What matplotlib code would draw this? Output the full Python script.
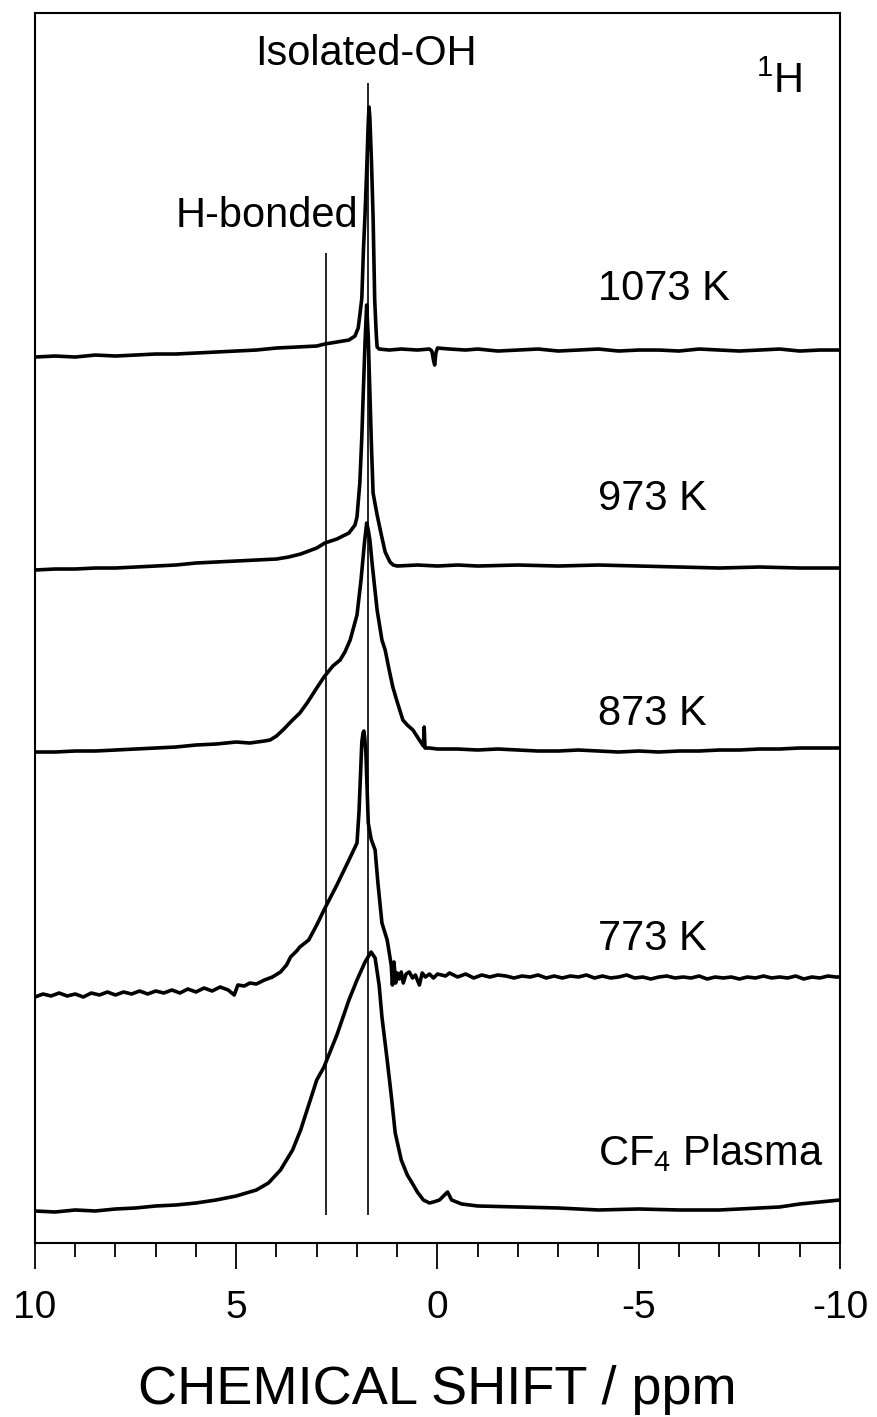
import matplotlib
matplotlib.use("Agg")
import matplotlib.pyplot as plt
from matplotlib.ticker import FixedLocator, MultipleLocator

plt.rcParams['font.family'] = ['Liberation Sans', 'DejaVu Sans']
plt.rcParams['axes.unicode_minus'] = False

# 1H MAS NMR spectra, chemical shift (ppm) and intensity above each trace's baseline (a.u.)
ppm_1073 = [10.0, 9.5, 9.0, 8.5, 8.0, 7.5, 7.0, 6.5, 6.0, 5.5, 5.0, 4.5, 4.0, 3.5, 3.0, 2.8,
            2.5, 2.2, 2.05, 1.97, 1.92, 1.88, 1.84, 1.80, 1.76, 1.72, 1.70, 1.68, 1.64, 1.60,
            1.56, 1.52, 1.50, 1.45, 1.2, 0.9, 0.5, 0.2, 0.14, 0.10, 0.07, 0.04, 0.0, -0.3,
            -0.7, -1.0, -1.5, -2.0, -2.5, -3.0, -3.5, -4.0, -4.5, -5.0, -5.5, -6.0, -6.5,
            -7.0, -7.5, -8.0, -8.5, -9.0, -9.5, -10.0]
int_1073 = [-7, -6, -7, -5, -6, -5, -4, -4, -3, -2, -1, 0, 2, 3, 4, 6,
            8, 10, 14, 22, 38, 52, 100, 136, 179, 228, 243, 232, 188, 133,
            50, 15, 3, 1, 0, 1, 0, 1, -1, -10, -15, -3, 2, 1,
            0, 1, -1, 0, 1, -1, 0, 1, -1, 0, 0, -1, 1,
            0, -1, 0, 1, -1, 0, 0]

ppm_973 = [10.0, 9.5, 9.0, 8.5, 8.0, 7.5, 7.0, 6.5, 6.0, 5.5, 5.0, 4.5, 4.0, 3.7, 3.4, 3.0,
           2.8, 2.5, 2.2, 2.05, 2.0, 1.93, 1.88, 1.85, 1.80, 1.76, 1.72, 1.68, 1.64, 1.60,
           1.50, 1.40, 1.30, 1.18, 1.1, 1.0, 0.5, 0.0, -0.5, -1.0, -2.0, -3.0, -4.0, -5.0,
           -6.0, -7.0, -8.0, -9.0, -10.0]
int_973 = [-3, -2, -2, -1, -1, 0, 1, 2, 4, 5, 6, 7, 8, 10, 13, 19,
           24, 28, 34, 42, 50, 84, 130, 167, 225, 262, 230, 175, 120, 74,
           52, 33, 15, 5, 2, 1, 2, 1, 2, 1, 2, 1, 2, 1,
           0, -1, 0, -1, -1]

ppm_873 = [10.0, 9.5, 9.0, 8.5, 8.0, 7.5, 7.0, 6.5, 6.0, 5.5, 5.0, 4.66, 4.3, 4.16, 4.0, 3.84,
           3.6, 3.42, 3.24, 3.0, 2.82, 2.6, 2.42, 2.3, 2.17, 2.0, 1.9, 1.82, 1.76, 1.72, 1.68,
           1.62, 1.58, 1.5, 1.38, 1.3, 1.2, 1.11, 1.0, 0.86, 0.75, 0.61, 0.45, 0.35, 0.33,
           0.31, 0.2, 0.0, -0.5, -1.0, -1.5, -2.0, -2.5, -3.0, -3.5, -4.0, -4.5, -5.0, -5.5,
           -6.0, -6.5, -7.0, -7.5, -8.0, -8.5, -9.0, -9.5, -10.0]
int_873 = [-2, -2, -1, -1, 0, 1, 2, 3, 5, 6, 8, 7, 9, 10, 14, 20,
           30, 37, 47, 62, 73, 84, 90, 98, 110, 135, 170, 205, 227, 220, 210,
           185, 170, 140, 110, 100, 80, 63, 48, 30, 25, 20, 10, 4, 23,
           2, 2, 1, 1, 0, 1, 0, -1, -1, 0, -1, -2, -1, -2,
           -1, -1, 0, 0, 1, 1, 2, 2, 2]

ppm_773 = [10.0, 9.8, 9.6, 9.4, 9.2, 9.0, 8.8, 8.6, 8.4, 8.2, 8.0, 7.8, 7.6, 7.4, 7.2, 7.0,
           6.8, 6.6, 6.4, 6.2, 6.0, 5.8, 5.6, 5.4, 5.2, 5.05, 4.96, 4.8, 4.66, 4.5, 4.3, 4.1,
           3.9, 3.75, 3.65, 3.5, 3.42, 3.2, 3.0, 2.82, 2.5, 2.2, 2.0, 1.95, 1.91, 1.88, 1.85,
           1.83, 1.81, 1.78, 1.75, 1.72, 1.65, 1.55, 1.48, 1.38, 1.25, 1.15, 1.12, 1.08, 1.04,
           1.0, 0.95, 0.9, 0.85, 0.78, 0.7, 0.62, 0.55, 0.45, 0.38, 0.3, 0.2, 0.1, 0.0, -0.2,
           -0.3, -0.5, -0.7, -0.9, -1.1, -1.3, -1.5, -1.7, -1.9, -2.1, -2.3, -2.5, -2.7, -2.9,
           -3.1, -3.3, -3.5, -3.7, -3.9, -4.1, -4.3, -4.5, -4.7, -4.9, -5.1, -5.3, -5.5, -5.7,
           -5.9, -6.1, -6.3, -6.5, -6.7, -6.9, -7.1, -7.3, -7.5, -7.7, -7.9, -8.1, -8.3, -8.5,
           -8.7, -8.9, -9.1, -9.3, -9.5, -9.7, -9.9, -10.0]
int_773 = [-20, -17, -19, -16, -19, -17, -20, -16, -18, -15, -18, -15, -17, -14, -17, -14,
           -16, -13, -16, -12, -15, -11, -14, -10, -13, -18, -8, -9, -6, -7, -3, 0,
           5, 12, 20, 26, 30, 37, 52, 67, 92, 117, 134, 165, 205, 235, 244,
           246, 240, 225, 190, 154, 138, 127, 94, 54, 37, 12, -8, 15, -6,
           4, -2, 5, -6, 3, 5, -1, 2, -8, 4, 0, 3, -1, 3, 1,
           4, 0, 3, -1, 2, 0, 2, 1, -1, 1, 0, 2, -1, 1,
           -1, 1, 0, 2, -1, 1, -1, 0, 2, -1, 0, -2, 0, 1,
           -1, 0, -1, 1, -2, 0, -1, 0, -2, 0, -1, 1, -1, 0,
           -1, 1, -2, 0, -1, 1, 0, 0]

ppm_cf4 = [10.0, 9.5, 9.0, 8.5, 8.0, 7.5, 7.0, 6.5, 6.0, 5.5, 5.0, 4.5, 4.2, 3.9, 3.6, 3.4,
           3.2, 3.0, 2.82, 2.5, 2.2, 2.0, 1.8, 1.65, 1.55, 1.45, 1.38, 1.25, 1.15, 1.05, 0.9,
           0.75, 0.6, 0.5, 0.35, 0.2, 0.1, -0.05, -0.25, -0.35, -0.6, -1.0, -2.0, -3.0, -4.0,
           -5.0, -6.0, -7.0, -8.0, -8.5, -9.0, -9.5, -10.0]
int_cf4 = [-3, -4, -2, -3, -1, 0, 2, 3, 5, 8, 12, 18, 25, 38, 58, 78,
           103, 128, 141, 173, 208, 228, 246, 256, 250, 223, 191, 148, 113, 75, 48,
           33, 23, 16, 8, 5, 6, 8, 16, 8, 4, 2, 1, 0, -2,
           -1, -2, -2, 0, 1, 4, 6, 8]

spectra = [(ppm_1073, int_1073), (ppm_973, int_973), (ppm_873, int_873),
           (ppm_773, int_773), (ppm_cf4, int_cf4)]
labels = ['1073 K', '973 K', '873 K', '773 K', r'CF$_\mathregular{4}$ Plasma']
offsets = [893, 676, 493, 266, 35]
label_y = [943, 733, 518, 293, 78]

# reference lines: isolated and H-bonded OH
ref_ppm = [1.73, 2.78]
ref_top = [1160, 990]
ref_bottom = 28

fig = plt.figure(figsize=(8.77, 14.17), dpi=100)
ax = fig.add_axes([0.0399, 0.1228, 0.9179, 0.868])

for (x, y), off in zip(spectra, offsets):
    ax.plot(x, [v + off for v in y], color='black', lw=2.6, solid_joinstyle='round')

for xp, top in zip(ref_ppm, ref_top):
    ax.vlines(xp, ref_bottom, top, color='black', lw=1.2)

for lab, yl in zip(labels, label_y):
    ax.text(-3.99, yl, lab, fontsize=30, ha='left', va='baseline')

ax.text(1.78, 1178, 'Isolated-OH', fontsize=30, ha='center', va='baseline')
ax.text(1.975, 1016, 'H-bonded', fontsize=30, ha='right', va='baseline')
ax.text(-9.06, 1150, r'$^\mathregular{1}$H', fontsize=30, ha='right', va='baseline')

ax.set_xlim(10, -10)
ax.set_ylim(0, 1230)
ax.xaxis.set_major_locator(FixedLocator([10, 5, 0, -5, -10]))
ax.set_xticklabels(['10', '5', '0', '-5', '-10'])
ax.xaxis.set_minor_locator(MultipleLocator(1))
ax.tick_params(axis='x', which='major', direction='out', length=18.7, width=1.3,
               labelsize=28, pad=15)
ax.tick_params(axis='x', which='minor', direction='out', length=10, width=1.3)
ax.set_yticks([])
for s in ax.spines.values():
    s.set_linewidth(1.5)
ax.set_xlabel('CHEMICAL SHIFT / ppm', fontsize=39, labelpad=28)

fig.savefig('out.png', dpi=100)
